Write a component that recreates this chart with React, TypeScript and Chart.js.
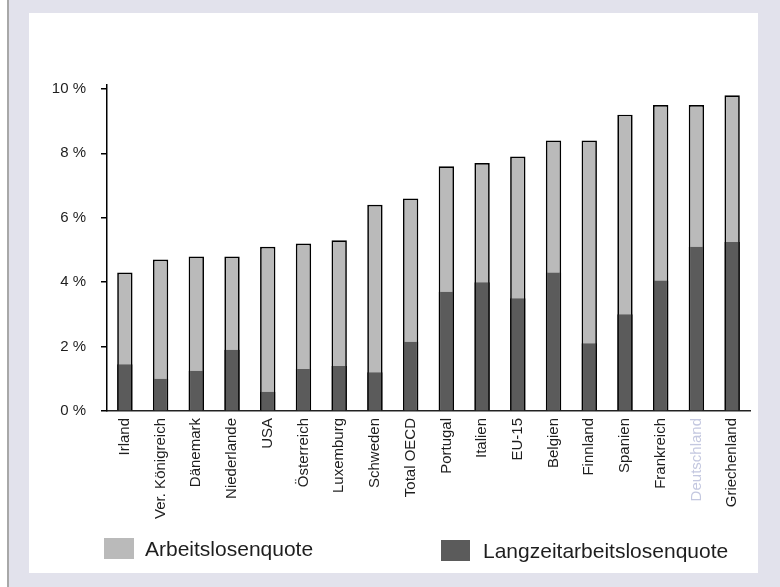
import React, { useEffect, useRef } from "react";
import { Chart, registerables } from "chart.js";

Chart.register(...registerables);

const categories = [
  "Irland",
  "Ver. Königreich",
  "Dänemark",
  "Niederlande",
  "USA",
  "Österreich",
  "Luxemburg",
  "Schweden",
  "Total OECD",
  "Portugal",
  "Italien",
  "EU-15",
  "Belgien",
  "Finnland",
  "Spanien",
  "Frankreich",
  "Deutschland",
  "Griechenland",
];

const arbeitslosenquote = [4.3, 4.7, 4.8, 4.8, 5.1, 5.2, 5.3, 6.4, 6.6, 7.6, 7.7, 7.9, 8.4, 8.4, 9.2, 9.5, 9.5, 9.8];
const langzeitquote = [1.45, 1.0, 1.25, 1.9, 0.6, 1.3, 1.4, 1.2, 2.15, 3.7, 4.0, 3.5, 4.3, 2.1, 3.0, 4.05, 5.1, 5.25];

const yTicks = [0, 2, 4, 6, 8, 10];

const legendLabels = ["Arbeitslosenquote", "Langzeitarbeitslosenquote"];
const highlightCategory = "Deutschland";

const FONT = '"Liberation Sans", Arial, Helvetica, sans-serif';
const LIGHT = "#bababa";
const DARK = "#5b5b5b";
const TEXT = "#1e1e1e";

export default function App() {
  const canvasRef = useRef<HTMLCanvasElement | null>(null);

  useEffect(() => {
    document.body.style.margin = "0";
    const canvas = canvasRef.current;
    if (!canvas) return;
    const chart = new Chart(canvas, {
      type: "bar",
      data: {
        labels: categories,
        datasets: [
          {
            label: legendLabels[1],
            data: langzeitquote,
            backgroundColor: DARK,
            borderColor: "#000000",
            borderWidth: { left: 1.5, right: 1.5, top: 0, bottom: 0 } as any,
            borderSkipped: false as any,
            grouped: false,
            categoryPercentage: 1,
            barPercentage: 0.43,
          } as any,
          {
            label: legendLabels[0],
            data: arbeitslosenquote,
            backgroundColor: LIGHT,
            borderColor: "#000000",
            borderWidth: 1.7,
            borderSkipped: "start",
            grouped: false,
            categoryPercentage: 1,
            barPercentage: 0.43,
          } as any,
        ],
      },
      options: {
        animation: false,
        responsive: false,
        devicePixelRatio: 1,
        layout: { padding: { top: 72, right: 8, bottom: 22, left: 0 } },
        plugins: {
          legend: { display: false },
          title: { display: false },
          tooltip: { enabled: false },
        },
        scales: {
          x: {
            grid: { display: false, drawTicks: false },
            border: { display: true, color: "#222222", width: 1.5 },
            ticks: {
              autoSkip: false,
              minRotation: 90,
              maxRotation: 90,
              padding: 7,
              font: { family: FONT, size: 15 },
              color: (ctx: any) => (categories[ctx.index] === highlightCategory ? "#c4c8e0" : TEXT),
            },
            afterFit: (scale: any) => {
              scale.height = 140;
            },
          },
          y: {
            min: 0,
            max: 10.12,
            grid: {
              display: true,
              drawOnChartArea: false,
              drawTicks: true,
              tickLength: 6,
              color: "#000000",
              lineWidth: 1.5,
            },
            border: { display: true, color: "#000000", width: 1.5 },
            ticks: {
              stepSize: 2,
              padding: 15,
              font: { family: FONT, size: 15 },
              color: TEXT,
              callback: (v: any) => `${v} %`,
            },
            afterBuildTicks: (scale: any) => {
              scale.ticks = yTicks.map((v) => ({ value: v }));
            },
            afterFit: (scale: any) => {
              scale.width = 78;
            },
          },
        },
      },
    });
    return () => chart.destroy();
  }, []);

  const legendItem = (
    label: string,
    color: string,
    boxLeft: number,
    boxTop: number,
    boxW: number,
    boxH: number,
    textLeft: number
  ) => (
    <div key={label}>
      <div
        style={{
          position: "absolute",
          left: boxLeft,
          top: boxTop,
          width: boxW,
          height: boxH,
          background: color,
        }}
      />
      <div
        style={{
          position: "absolute",
          left: textLeft,
          top: boxTop,
          lineHeight: `${boxH}px`,
          fontSize: 21,
          fontFamily: FONT,
          color: TEXT,
          whiteSpace: "nowrap",
        }}
      >
        {label}
      </div>
    </div>
  );

  return (
    <div
      style={{
        position: "relative",
        width: 780,
        height: 587,
        background: "#e2e2ec",
        overflow: "hidden",
      }}
    >
      <div style={{ position: "absolute", left: 0, top: 0, width: 7, height: 587, background: "#ffffff" }} />
      <div style={{ position: "absolute", left: 7, top: 0, width: 2, height: 587, background: "#a8a8a8" }} />
      <div
        style={{
          position: "absolute",
          left: 29,
          top: 13,
          width: 729,
          height: 560,
          background: "#ffffff",
        }}
      >
        <canvas ref={canvasRef} width={729} height={560} style={{ position: "absolute", left: 0, top: 0 }} />
        {legendItem(legendLabels[0], LIGHT, 75, 525, 30, 21, 116)}
        {legendItem(legendLabels[1], DARK, 412, 527, 29, 21, 454)}
      </div>
    </div>
  );
}
